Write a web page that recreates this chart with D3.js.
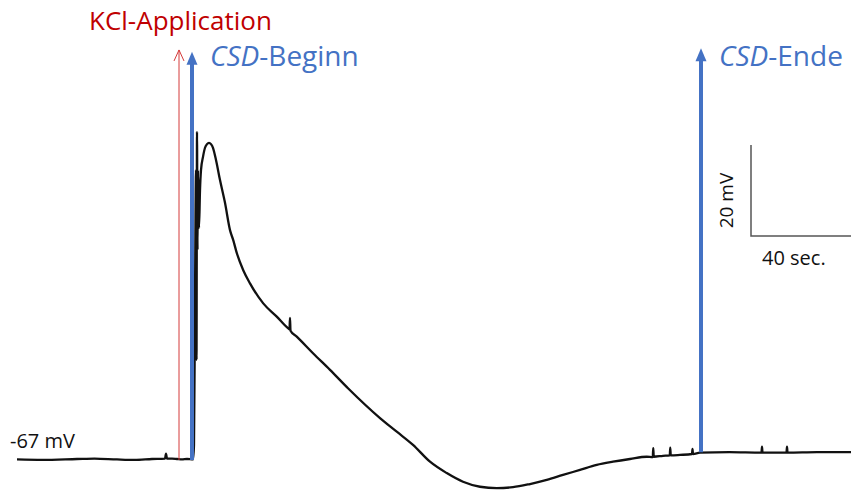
<!DOCTYPE html>
<html>
<head>
<meta charset="utf-8">
<script src="https://cdn.jsdelivr.net/npm/d3@7"></script>
<style>
  body { margin: 0; background: #fff; }
  svg { display: block; font-family: "Open Sans", "Noto Sans", sans-serif; }
</style>
</head>
<body>
<script>
// Membrane potential trace (time in s, potential in mV)
const traceTime = [
    0, 10, 24, 31, 40, 47, 54, 59.2, 59.6, 60, 62, 64, 66, 68, 70.4,
    70.8, 71.2, 71.6, 71.8, 72.0, 72.2, 72.4, 72.8, 73.2, 73.6, 74.4, 75.2,
    76.0, 76.8, 77.6, 78.4, 79.6, 81.2, 83.2, 85.2, 86.5, 87.9, 90.5, 93.2,
    98.5, 103.9, 108.5, 109.0, 109.2, 109.4, 111.9, 118.5, 125.2, 132.5,
    145.2, 151.9, 158.4,
    165.2, 171.9, 178.4, 185.2, 191.9, 198.4, 205.2, 211.9, 218.4, 225.2,
    231.9, 238.4, 245.2, 251.9, 254.3, 254.5, 254.7, 258.4, 261.1, 261.3,
    261.5, 265.2, 270.0, 270.2, 270.4, 273.2, 285, 297.8, 298.0, 298.2,
    307.8, 308.0, 308.2, 320, 333.6
];
const traceVolt = [
    -67.1, -67.2, -67.0, -66.9, -67.1, -67.2, -67.0, -66.9, -65.8, -66.9, -66.9, -67.0, -67.1, -67.0, -67.1,
    -63.9, -32.1, -3.5, -45.2, 4.9, -21.1, -3.5, -16.2, -7.9, -3.5, -0.6, 1.4,
    2.2, 2.5, 2.2, 1.4, -1.3, -5.7, -10.7, -16.7, -18.9, -21.7, -25.5, -28.4,
    -32.8, -35.7, -38.3, -38.5, -36.0, -38.8, -40.1, -43.8, -47.4, -51.5,
    -58.0, -61.0, -63.9,
    -67.6, -70.1, -72.0, -73.1, -73.4, -73.2, -72.5, -71.6, -70.5, -69.4,
    -68.3, -67.6, -67.0, -66.5, -66.6, -64.6, -66.5, -66.3, -66.2, -64.5,
    -66.2, -66.1, -65.9, -64.8, -65.9, -65.6, -65.5, -65.6, -64.3, -65.6,
    -65.6, -64.3, -65.6, -65.5, -65.5
];

// Event markers (s) and their labels
const eventNames = ["KCl-Application", "CSD-Beginn", "CSD-Ende"];
const eventTimes = [64.8, 70.0, 273.6];
const eventBaseVolt = [-67.2, -67.2, -65.5];
const eventTopVolt = [22.9, 22.5, 23.3];

// Baseline label
const restingLabel = "-67 mV";
const restingVolt = -67;

// Scale bar
const scaleBarTime = 293.6;
const scaleBarVolt = -18.0;
const scaleBarSec = 40;
const scaleBarMV = 20;

const width = 851, height = 490;
const blue = "#4472C4", red = "#C00000";

const svg = d3.select("body")
    .append("svg")
    .attr("width", width)
    .attr("height", height);

// Scales (1 s = 2.5 px, 1 mV = 4.55 px)
const x = d3.scaleLinear().domain([0, 333.6]).range([17, 851]);
const y = d3.scaleLinear().domain([-80, 40]).range([518.15, -27.85]);

const traceData = traceTime.map((t, i) => ({ t: t, v: traceVolt[i] }));

// Trace
svg.append("path")
    .datum(traceData)
    .attr("fill", "none")
    .attr("stroke", "#111")
    .attr("stroke-width", 2.3)
    .attr("stroke-linejoin", "round")
    .attr("d", d3.line()
        .curve(d3.curveMonotoneX)
        .x(d => x(d.t))
        .y(d => y(d.v))
    );

// KCl arrow: thin red line with open head
const kx = x(eventTimes[0]), kTop = y(eventTopVolt[0]);
svg.append("line")
    .attr("x1", kx).attr("x2", kx)
    .attr("y1", y(eventBaseVolt[0])).attr("y2", kTop)
    .attr("stroke", "#D43A3A")
    .attr("stroke-width", 1);
svg.append("path")
    .attr("d", `M${kx - 5},${kTop + 11} L${kx},${kTop} L${kx + 5},${kTop + 11}`)
    .attr("fill", "none")
    .attr("stroke", "#D43A3A")
    .attr("stroke-width", 1);

// CSD arrows: thick blue with filled head
[1, 2].forEach(i => {
    const ax = x(eventTimes[i]), top = y(eventTopVolt[i]);
    svg.append("line")
        .attr("x1", ax).attr("x2", ax)
        .attr("y1", y(eventBaseVolt[i])).attr("y2", top + 10)
        .attr("stroke", blue)
        .attr("stroke-width", 4);
    svg.append("path")
        .attr("d", `M${ax - 5.5},${top + 13} L${ax},${top} L${ax + 5.5},${top + 13} Z`)
        .attr("fill", blue);
});

// Labels
svg.append("text")
    .attr("x", x(eventTimes[0]) - 90)
    .attr("y", 30)
    .attr("fill", red)
    .style("font-size", "26px")
    .text(eventNames[0]);

[1, 2].forEach(i => {
    const parts = eventNames[i].split("-");
    const t = svg.append("text")
        .attr("x", x(eventTimes[i]) + 18)
        .attr("y", 66)
        .attr("fill", blue)
        .style("font-size", "28px");
    t.append("tspan").style("font-style", "italic").text(parts[0]);
    t.append("tspan").text("-" + parts[1]);
});

svg.append("text")
    .attr("x", 10)
    .attr("y", y(restingVolt) - 11)
    .attr("fill", "#111")
    .style("font-size", "20px")
    .text(restingLabel);

// Scale bar
const sx0 = x(scaleBarTime), sy0 = y(scaleBarVolt);
svg.append("path")
    .attr("d", `M${sx0},${y(scaleBarVolt + scaleBarMV)} L${sx0},${sy0} L${x(scaleBarTime + scaleBarSec)},${sy0}`)
    .attr("fill", "none")
    .attr("stroke", "#555")
    .attr("stroke-width", 1.5);

svg.append("text")
    .attr("transform", `translate(${sx0 - 18},${(sy0 + y(scaleBarVolt + scaleBarMV)) / 2 + 10}) rotate(-90)`)
    .attr("text-anchor", "middle")
    .attr("fill", "#111")
    .style("font-size", "19px")
    .text(scaleBarMV + " mV");

svg.append("text")
    .attr("x", sx0 + 11)
    .attr("y", sy0 + 29)
    .attr("fill", "#111")
    .style("font-size", "20px")
    .text(scaleBarSec + " sec.");
</script>
</body>
</html>
